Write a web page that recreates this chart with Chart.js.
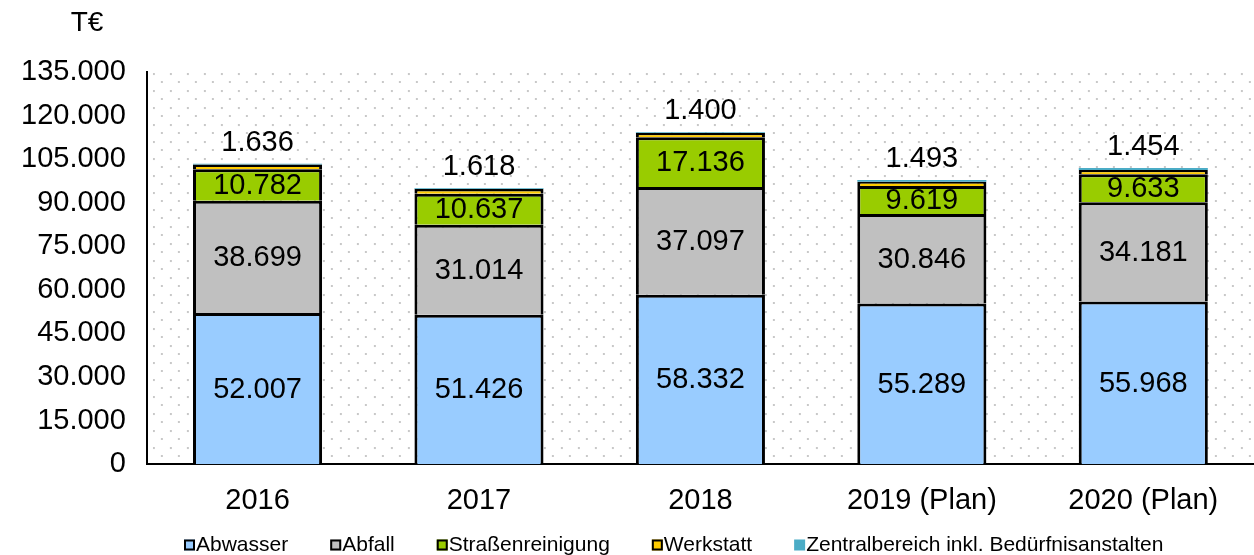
<!DOCTYPE html>
<html>
<head>
<meta charset="utf-8">
<script src="https://cdn.jsdelivr.net/npm/chart.js@4"></script>
<style>
  body { margin: 0; background: #fff; }
  #wrap { width: 1254px; height: 555px; }
</style>
</head>
<body>
<div id="wrap"><canvas id="costChart" width="1254" height="555"></canvas></div>
<script>
const years = ['2016', '2017', '2018', '2019 (Plan)', '2020 (Plan)'];
const abwasser = [52007, 51426, 58332, 55289, 55968];
const abfall = [38699, 31014, 37097, 30846, 34181];
const strassenreinigung = [10782, 10637, 17136, 9619, 9633];
const werkstatt = [1636, 1618, 1400, 1493, 1454];
const zentralbereich = [300, 300, 300, 600, 700];
const yTicks = [0, 15000, 30000, 45000, 60000, 75000, 90000, 105000, 120000, 135000];

const FONT = '"Liberation Sans", Arial, sans-serif';

function fmt(v) {
    return String(Math.round(v)).replace(/\B(?=(\d{3})+(?!\d))/g, '.');
}

// dotted background in the plot area + unit label
const dotBackground = {
    id: 'dotBackground',
    beforeDraw(chart) {
        const { ctx, chartArea } = chart;
        const tile = document.createElement('canvas');
        tile.width = 17;
        tile.height = 17;
        const t = tile.getContext('2d');
        t.fillStyle = '#c8c8c8';
        t.fillRect(0, 0, 2, 2);
        t.fillRect(8, 8, 2, 2);
        const pattern = ctx.createPattern(tile, 'repeat');
        ctx.save();
        ctx.translate(chartArea.left + 6, chartArea.top + 1);
        ctx.fillStyle = pattern;
        ctx.fillRect(0, 0, chartArea.width - 6, chartArea.height - 1);
        ctx.restore();

        ctx.save();
        ctx.fillStyle = '#000';
        ctx.font = '28px ' + FONT;
        ctx.textAlign = 'center';
        ctx.textBaseline = 'middle';
        ctx.fillText('T€', 87, 23);
        ctx.restore();
    }
};

// values inside the segments, Werkstatt above the stack
const barLabels = {
    id: 'barLabels',
    afterDatasetsDraw(chart) {
        const { ctx } = chart;
        ctx.save();
        ctx.fillStyle = '#000';
        ctx.textAlign = 'center';
        ctx.textBaseline = 'middle';
        ctx.font = '29px ' + FONT;
        [0, 1, 2].forEach(di => {
            const meta = chart.getDatasetMeta(di);
            meta.data.forEach((bar, i) => {
                const v = chart.data.datasets[di].data[i];
                ctx.fillText(fmt(v), bar.x, (bar.y + bar.base) / 2 + 1);
            });
        });
        chart.getDatasetMeta(4).data.forEach((bar, i) => {
            ctx.fillText(fmt(werkstatt[i]), bar.x, bar.y - 21);
        });
        ctx.restore();
    }
};

// legend along the bottom
const bottomLegend = {
    id: 'bottomLegend',
    afterDraw(chart) {
        const { ctx } = chart;
        ctx.save();
        ctx.font = '21px ' + FONT;
        ctx.textBaseline = 'middle';
        let x = 184;
        const y = 545;
        chart.data.datasets.forEach(ds => {
            ctx.fillStyle = ds.backgroundColor;
            ctx.fillRect(x, y - 5.5, 11, 11);
            if (ds.borderWidth) {
                ctx.strokeStyle = '#000';
                ctx.lineWidth = 2;
                ctx.strokeRect(x + 1, y - 4.5, 9, 9);
            }
            ctx.fillStyle = '#000';
            ctx.fillText(ds.label, x + 12, y);
            x += 12 + ctx.measureText(ds.label).width + 42;
        });
        ctx.restore();
    }
};

new Chart(document.getElementById('costChart'), {
    type: 'bar',
    data: {
        labels: years,
        datasets: [
            { label: 'Abwasser', data: abwasser, backgroundColor: '#99ccff' },
            { label: 'Abfall', data: abfall, backgroundColor: '#c0c0c0' },
            { label: 'Straßenreinigung', data: strassenreinigung, backgroundColor: '#99cc00' },
            { label: 'Werkstatt', data: werkstatt, backgroundColor: '#ffcc00' },
            { label: 'Zentralbereich inkl. Bedürfnisanstalten', data: zentralbereich, backgroundColor: '#4bacc6', borderWidth: 0 }
        ].map(ds => Object.assign({
            borderColor: '#000',
            borderWidth: 3,
            borderSkipped: 'start',
            categoryPercentage: 0.583,
            barPercentage: 1
        }, ds))
    },
    options: {
        responsive: false,
        animation: false,
        layout: {
            padding: { top: 72, right: 0, left: 0, bottom: 18 }
        },
        plugins: {
            legend: { display: false },
            tooltip: { enabled: false }
        },
        scales: {
            x: {
                stacked: true,
                grid: { display: false, drawTicks: false },
                border: { color: '#000', width: 2 },
                ticks: {
                    color: '#000',
                    padding: 19,
                    font: { size: 29, family: FONT }
                }
            },
            y: {
                stacked: true,
                min: 0,
                max: 135000,
                afterBuildTicks(axis) {
                    axis.ticks = yTicks.map(v => ({ value: v }));
                },
                grid: { display: false, drawTicks: false },
                border: { color: '#000', width: 2 },
                ticks: {
                    color: '#000',
                    padding: 21,
                    font: { size: 29, family: FONT },
                    callback: v => fmt(v)
                }
            }
        }
    },
    plugins: [dotBackground, barLabels, bottomLegend]
});
</script>
</body>
</html>
